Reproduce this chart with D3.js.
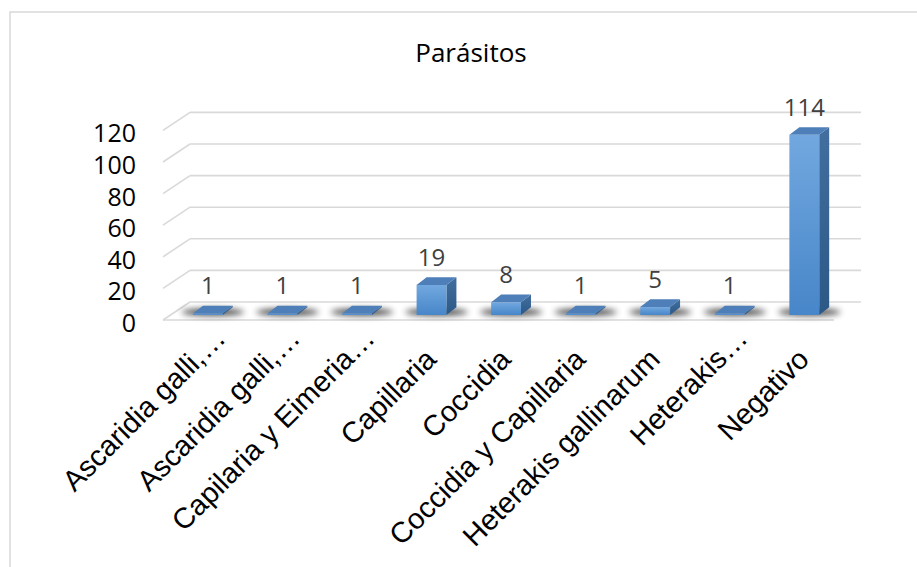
<!DOCTYPE html>
<html>
<head>
<meta charset="utf-8">
<script src="https://cdn.jsdelivr.net/npm/d3@7"></script>
<style>
  html, body { margin: 0; padding: 0; background: #fff; }
  svg { display: block; }
</style>
</head>
<body>
<svg id="chart" width="917" height="567"></svg>
<script>
// ---- data ----
const title = "Parásitos";
const categories = [
  "Ascaridia galli,…",
  "Ascaridia galli,…",
  "Capilaria y Eimeria…",
  "Capillaria",
  "Coccidia",
  "Coccidia y Capillaria",
  "Heterakis gallinarum",
  "Heterakis…",
  "Negativo"
];
const values = [1, 1, 1, 19, 8, 1, 5, 1, 114];
const yTicks = [0, 20, 40, 60, 80, 100, 120];

// ---- layout ----
const svg = d3.select("#chart");
const W = 917, H = 567;
const front = { x0: 163, x1: 834 };
const depth = { dx: 27, dy: -18 };
const barDepth = { dx: 10, dy: -7.7 };
const barZ = 0.28; // fraction of floor depth where bar front sits

const x = d3.scaleBand().domain(d3.range(categories.length)).range([front.x0, front.x1]).paddingInner(0).paddingOuter(0);
const y = d3.scaleLinear().domain([0, 120]).range([320, 130.4]);

const defs = svg.append("defs");
const gFront = defs.append("linearGradient").attr("id", "gFront").attr("x1", 0).attr("y1", 0).attr("x2", 0).attr("y2", 1);
gFront.append("stop").attr("offset", "0%").attr("stop-color", "#72a8df");
gFront.append("stop").attr("offset", "100%").attr("stop-color", "#4786c9");
const gSide = defs.append("linearGradient").attr("id", "gSide").attr("x1", 0).attr("y1", 0).attr("x2", 0).attr("y2", 1);
gSide.append("stop").attr("offset", "0%").attr("stop-color", "#426f9f");
gSide.append("stop").attr("offset", "100%").attr("stop-color", "#2c5886");
const blur = defs.append("filter").attr("id", "blur").attr("x", "-50%").attr("y", "-200%").attr("width", "200%").attr("height", "500%");
blur.append("feGaussianBlur").attr("stdDeviation", 3);

// chart border
svg.append("path")
  .attr("d", `M10,${H + 2} L10,12 L${W + 2},12`)
  .attr("fill", "none").attr("stroke", "#d9d9d9").attr("stroke-width", 1.5);

// title
svg.append("text")
  .attr("x", 471).attr("y", 62)
  .attr("text-anchor", "middle")
  .attr("font-family", "'Open Sans', sans-serif")
  .attr("font-size", 26)
  .attr("fill", "#000")
  .text(title);

// gridlines (back wall + left side wall)
const grid = svg.append("g").attr("stroke", "#d9d9d9").attr("stroke-width", 1.6).attr("fill", "none");
yTicks.forEach(t => {
  const yf = y(t);
  grid.append("line")
    .attr("x1", front.x0).attr("y1", yf)
    .attr("x2", front.x0 + depth.dx).attr("y2", yf + depth.dy);
  grid.append("line")
    .attr("x1", front.x0 + depth.dx).attr("y1", yf + depth.dy)
    .attr("x2", front.x1 + depth.dx).attr("y2", yf + depth.dy);
});
// floor front edge
grid.append("line")
  .attr("x1", front.x0).attr("y1", y(0))
  .attr("x2", front.x1).attr("y2", y(0));

// y tick labels
svg.append("g").selectAll("text").data(yTicks).join("text")
  .attr("x", 136)
  .attr("y", d => y(d) + 12)
  .attr("text-anchor", "end")
  .attr("font-family", "'Open Sans', sans-serif")
  .attr("font-size", 25)
  .attr("fill", "#000")
  .text(d => d);

// bars
const bw = x.bandwidth() * 0.40;
const zx = depth.dx * barZ, zy = depth.dy * barZ;
const bars = values.map((v, i) => {
  const cx = x(i) + x.bandwidth() / 2 + zx;
  return { v, i, l: cx - bw / 2, r: cx + bw / 2, b: y(0) + zy, t: y(v) + zy, cx };
});

// shadows
svg.append("g").selectAll("ellipse").data(bars).join("ellipse")
  .attr("cx", d => d.cx + barDepth.dx / 2)
  .attr("cy", d => d.b + barDepth.dy / 2 + 1)
  .attr("rx", bw * 1.05)
  .attr("ry", 3.5)
  .attr("fill", "#000")
  .attr("opacity", 0.75)
  .attr("filter", "url(#blur)");

const bg = svg.append("g").selectAll("g").data(bars).join("g");
// side face
bg.append("path")
  .attr("d", d => `M${d.r},${d.b} L${d.r + barDepth.dx},${d.b + barDepth.dy} L${d.r + barDepth.dx},${d.t + barDepth.dy} L${d.r},${d.t} Z`)
  .attr("fill", "url(#gSide)");
// front face
bg.append("rect")
  .attr("x", d => d.l).attr("y", d => d.t)
  .attr("width", bw).attr("height", d => Math.max(0.01, d.b - d.t))
  .attr("fill", "url(#gFront)");
// top face
bg.append("path")
  .attr("d", d => `M${d.l},${d.t} L${d.r},${d.t} L${d.r + barDepth.dx},${d.t + barDepth.dy} L${d.l + barDepth.dx},${d.t + barDepth.dy} Z`)
  .attr("fill", "#4e7fb8");

// data labels
svg.append("g").selectAll("text").data(bars).join("text")
  .attr("x", d => d.cx)
  .attr("y", d => d.t - 19.3)
  .attr("text-anchor", "middle")
  .attr("font-family", "'Open Sans', sans-serif")
  .attr("font-size", 24)
  .attr("fill", "#404040")
  .text(d => d.v);

// category labels
svg.append("g").selectAll("text").data(categories).join("text")
  .attr("transform", (d, i) => {
    const c = x(i) + x.bandwidth() / 2;
    const trunc = d.endsWith("…");
    const ax = trunc ? c + 27 : c + 14;
    const ay = trunc ? 340 : 361;
    return `translate(${ax},${ay}) rotate(-45)`;
  })
  .attr("text-anchor", "end")
  .attr("font-family", "'Liberation Sans', Arial, sans-serif")
  .attr("font-size", 29)
  .attr("fill", "#000")
  .text(d => d);
</script>
</body>
</html>
